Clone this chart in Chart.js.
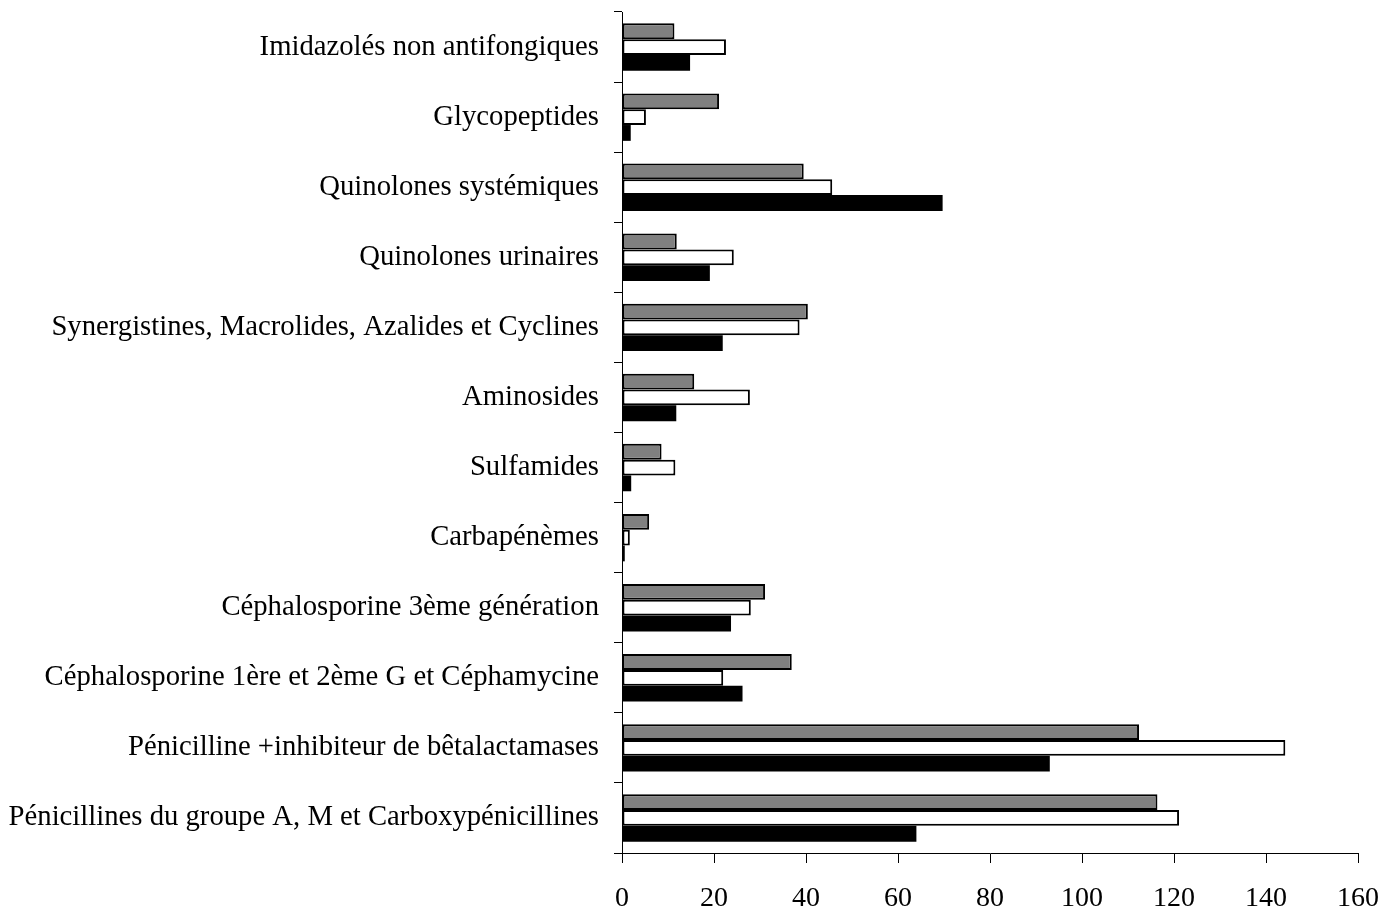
<!DOCTYPE html>
<html>
<head>
<meta charset="utf-8">
<script src="https://cdn.jsdelivr.net/npm/chart.js@4"></script>
<style>
  html, body { margin: 0; padding: 0; background: #fff; }
  #wrap { width: 1396px; height: 912px; position: relative; }
</style>
</head>
<body>
<div id="wrap"><canvas id="grafica"></canvas></div>
<script>
const categorias = [
    "Imidazolés non antifongiques",
    "Glycopeptides",
    "Quinolones systémiques",
    "Quinolones urinaires",
    "Synergistines, Macrolides, Azalides et Cyclines",
    "Aminosides",
    "Sulfamides",
    "Carbapénèmes",
    "Céphalosporine 3ème génération",
    "Céphalosporine 1ère et 2ème G et Céphamycine",
    "Pénicilline +inhibiteur de bêtalactamases",
    "Pénicillines du groupe A, M et Carboxypénicillines",
];

const serieGris = [11.4, 21.1, 39.5, 11.9, 40.4, 15.7, 8.6, 5.9, 31.1, 36.9, 112.4, 116.4];
const serieBlanca = [22.6, 5.2, 45.7, 24.3, 38.6, 27.8, 11.6, 1.7, 28.0, 22.0, 144.2, 121.1];
const serieNegra = [14.8, 1.9, 69.7, 19.1, 21.9, 11.8, 2.0, 0.6, 23.7, 26.2, 93.0, 64.0];

const ticksX = [0, 20, 40, 60, 80, 100, 120, 140, 160];

const familia = "'Liberation Serif', 'Times New Roman', serif";

new Chart(document.getElementById("grafica"), {
    type: "bar",
    data: {
        labels: categorias,
        datasets: [
            { label: "Série 3", data: serieGris, backgroundColor: "#808080", borderColor: "#000", borderWidth: 2, borderSkipped: false },
            { label: "Série 2", data: serieBlanca, backgroundColor: "#fff", borderColor: "#000", borderWidth: 2, borderSkipped: false },
            { label: "Série 1", data: serieNegra, backgroundColor: "#000", borderColor: "#000", borderWidth: 0 },
        ],
    },
    options: {
        indexAxis: "y",
        responsive: true,
        maintainAspectRatio: false,
        animation: false,
        categoryPercentage: 0.677,
        barPercentage: 1,
        layout: { padding: { top: 12, right: 38, left: 0, bottom: 0 } },
        scales: {
            x: {
                min: 0,
                max: 160,
                afterBuildTicks: (s) => { s.ticks = ticksX.map((v) => ({ value: v })); },
                ticks: { color: "#000", font: { family: familia, size: 28 }, padding: 19, maxRotation: 0 },
                grid: { drawOnChartArea: false, tickLength: 10, color: "#000", tickWidth: 1 },
                border: { color: "#000", width: 1 },
                afterFit: (s) => { s.height = 59; s.paddingLeft = 0; s.paddingRight = 0; },
            },
            y: {
                ticks: { color: "#000", font: { family: familia, size: 28.7 }, padding: 15 },
                grid: { drawOnChartArea: false, tickLength: 8, color: "#000", offset: true },
                border: { color: "#000", width: 1 },
                afterFit: (s) => { s.width = 622; s.paddingTop = 0; s.paddingBottom = 0; },
            },
        },
        plugins: {
            legend: { display: false },
            tooltip: { enabled: false },
        },
    },
});
</script>
</body>
</html>
